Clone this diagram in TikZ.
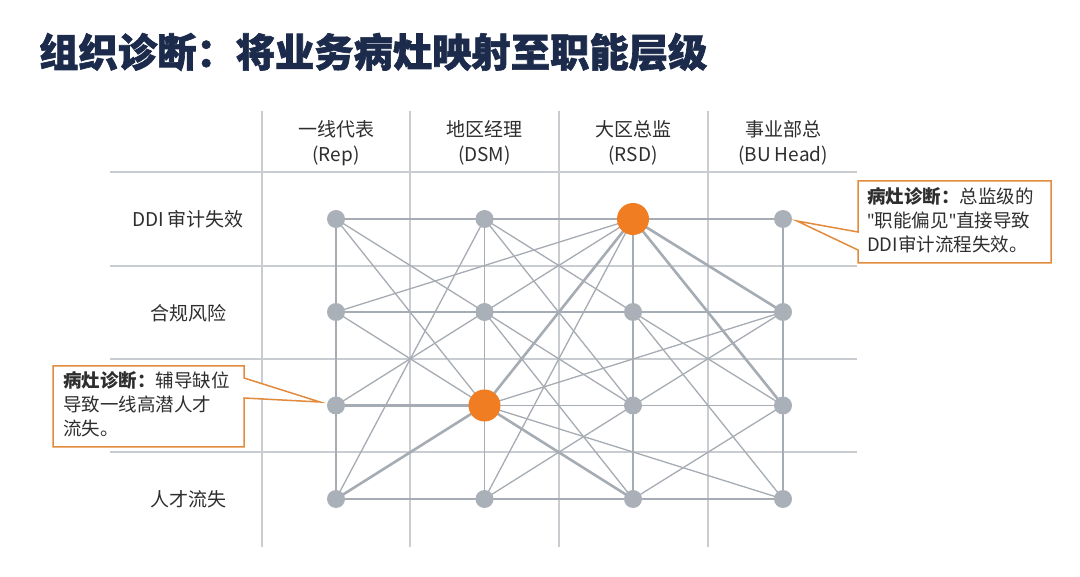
\documentclass[tikz,border=0pt]{standalone}
\usepackage{fontspec}
\setmainfont{Noto Sans CJK SC}
\newfontfamily\cjk{Noto Sans CJK SC}
\newfontfamily\titlefont[BoldFeatures={FakeBold=1.6}]{Noto Sans CJK SC}
\newfontfamily\latin{Noto Sans}
\definecolor{navy}{HTML}{1C2B4B}
\definecolor{txt}{HTML}{2E2E2E}
\definecolor{gridc}{HTML}{C9CDD2}
\definecolor{edgec}{HTML}{A6ACB3}
\definecolor{nodec}{HTML}{A9B0B8}
\definecolor{hot}{HTML}{F07D22}
\definecolor{callc}{HTML}{E38B3D}
\begin{document}
\begin{tikzpicture}[x=1pt,y=-1pt,
  gn/.style={circle,fill=nodec,minimum size=18pt,inner sep=0pt},
  hn/.style={circle,fill=hot,minimum size=32pt,inner sep=0pt},
  gridline/.style={draw=gridc,line width=1.4pt},
  thin/.style={draw=edgec,line width=1.3pt},
  thick/.style={draw=edgec,line width=2.6pt},
  hdr/.style={font=\fontsize{19}{25}\selectfont,text=txt,align=center},
  rowlab/.style={font=\fontsize{19}{24}\selectfont,text=txt},
  callout/.style={draw=callc,line width=1.5pt,fill=white},
  calltext/.style={font=\fontsize{18.5}{24}\selectfont,text=txt,align=left,anchor=north west,inner sep=0pt}
]
\useasboundingbox (0,0) rectangle (1080,577);
\fill[white] (0,0) rectangle (1080,577);

% title
\node[anchor=west,inner sep=0pt,text=navy,font=\titlefont\fontsize{39.3}{41}\selectfont\bfseries] (title) at (39,52) {组织诊断：将业务病灶映射至职能层级};

% grid
\foreach \x in {262,410,559,708} \draw[gridline] (\x,111) -- (\x,547);
\foreach \y in {172,266,359,452} \draw[gridline] (110,\y) -- (857,\y);

% headers
\node[hdr] (h1) at (336,143) {一线代表\\(Rep)};
\node[hdr] (h2) at (484.5,143) {地区经理\\(DSM)};
\node[hdr] (h3) at (633,143) {大区总监\\(RSD)};
\node[hdr] (h4) at (783,143) {事业部总\\(BU Head)};

% row labels
\node[rowlab] (r1) at (188,219) {DDI 审计失效};
\node[rowlab] (r2) at (188,313) {合规风险};
\node[rowlab] (r4) at (188,499) {人才流失};

% node positions
\foreach \c/\x in {A/336,B/484.5,C/633,D/783}
  \foreach \r/\y in {1/219,2/312,3/405.5,4/499}
    \coordinate (\c\r) at (\x,\y);

% thin edges
\foreach \a/\b in {A1/B1,B1/C1,A2/B2,B2/C2,C2/D2,B3/C3,C3/D3,A4/B4,B4/C4,C4/D4,
  A1/A2,A2/A3,A3/A4,B1/B2,B2/B3,B3/B4,C1/C2,C2/C3,C3/C4,D1/D2,D2/D3,D3/D4,
  A1/B2,A1/B3,B1/A4,A2/C1,B1/C2,B1/C3,C1/B2,C1/B4,A2/B3,B2/A3,B3/D4,B3/D2,
  B2/C3,C2/D3,C2/D4,C3/D2,C4/D3,B4/C3,B2/C4}
  \draw[thin] (\a) -- (\b);
% thick edges
\foreach \a/\b in {C1/D1,A3/B3,C1/B3,C1/D2,C1/D3,B3/A4,B3/C4}
  \draw[thick] (\a) -- (\b);

% nodes
\foreach \n in {A1,B1,D1,A2,B2,C2,D2,A3,C3,D3,A4,B4,C4,D4}
  \node[gn] (n\n) at (\n) {};
\node[hn] (nC1) at (C1) {};
\node[hn] (nB3) at (B3) {};

% right callout
\coordinate (tipR) at (797,221);
\draw[callout] (858,181) -- (1051,181) -- (1051,263) -- (858,263) -- (858,250) -- (tipR) -- (858,232) -- cycle;
\node[calltext] (cR) at (867,187) {\textbf{病灶诊断：}总监级的\\{\latin"}职能偏见{\latin"}直接导致\\DDI审计流程失效。};

% left callout
\coordinate (tipL) at (320,402);
\draw[callout] (53,366) -- (244,366) -- (244,378) -- (tipL) -- (244,398) -- (244,447) -- (53,447) -- cycle;
\node[calltext] (cL) at (63,371) {\textbf{病灶诊断：}辅导缺位\\导致一线高潜人才\\流失。};
\end{tikzpicture}
\end{document}
